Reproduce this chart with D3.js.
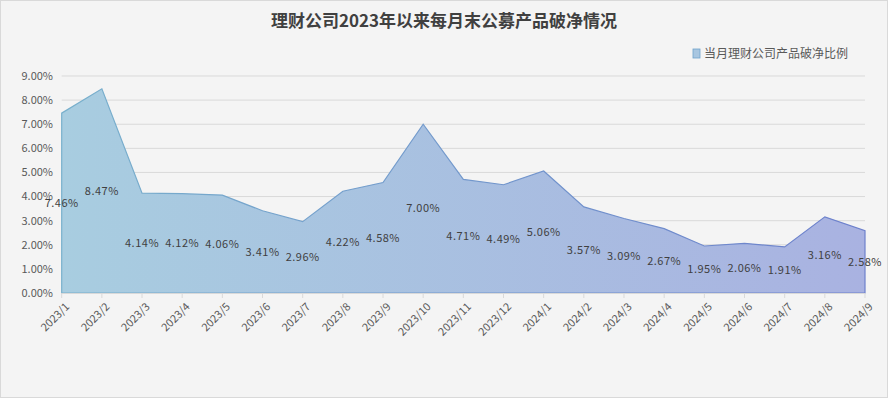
<!DOCTYPE html>
<html><head><meta charset="utf-8">
<script src="https://cdn.jsdelivr.net/npm/d3@7"></script>
<style>body{margin:0;background:#fff;}svg{display:block;}</style>
</head><body>
<svg id="c" width="889" height="399"></svg>
<script>
const categories = ["2023/1","2023/2","2023/3","2023/4","2023/5","2023/6","2023/7","2023/8","2023/9","2023/10","2023/11","2023/12","2024/1","2024/2","2024/3","2024/4","2024/5","2024/6","2024/7","2024/8","2024/9"];
const values = [7.46,8.47,4.14,4.12,4.06,3.41,2.96,4.22,4.58,7.00,4.71,4.49,5.06,3.57,3.09,2.67,1.95,2.06,1.91,3.16,2.58];
const yTicks = [0,1,2,3,4,5,6,7,8,9];
const title = "理财公司2023年以来每月末公募产品破净情况";
const seriesName = "当月理财公司产品破净比例";

const svg = d3.select("#c");
const W = 889, H = 399;
svg.append("rect").attr("x",0.5).attr("y",0.5).attr("width",W-2).attr("height",H-2)
  .attr("fill","#f4f4f4").attr("stroke","#d9d9d9");

const x0 = 61.7, x1 = 865, yTop = 76, yBot = 293;
const x = d3.scalePoint().domain(categories).range([x0,x1]);
const y = d3.scaleLinear().domain([0,9]).range([yBot,yTop]);

const font = "'Microsoft YaHei','Noto Sans CJK SC','Noto Sans',sans-serif";

// gridlines
svg.append("g").selectAll("line").data(yTicks.filter(d=>d>0)).join("line")
  .attr("x1",x0).attr("x2",x1).attr("y1",d=>y(d)).attr("y2",d=>y(d))
  .attr("stroke","#d9d9d9").attr("stroke-width",1);

// gradient
const defs = svg.append("defs");
const gf = defs.append("linearGradient").attr("id","gf").attr("gradientUnits","userSpaceOnUse")
  .attr("x1",x0).attr("x2",x1).attr("y1",0).attr("y2",0);
gf.append("stop").attr("offset","0%").attr("stop-color","#a8cde0");
gf.append("stop").attr("offset","100%").attr("stop-color","#a9b2e1");
const gs = defs.append("linearGradient").attr("id","gs").attr("gradientUnits","userSpaceOnUse")
  .attr("x1",x0).attr("x2",x1).attr("y1",0).attr("y2",0);
gs.append("stop").attr("offset","0%").attr("stop-color","#78b0cc");
gs.append("stop").attr("offset","100%").attr("stop-color","#6d80cc");

const data = categories.map((c,i)=>({c, v: values[i]}));
const area = d3.area().x(d=>x(d.c)).y0(y(0)).y1(d=>y(d.v));
svg.append("path").datum(data).attr("d",area).attr("fill","url(#gf)")
  .attr("stroke","url(#gs)").attr("stroke-width",1.2).attr("stroke-linejoin","miter");

// x axis
const xAxis = svg.append("g").attr("transform",`translate(0,${yBot})`);
xAxis.append("line").attr("x1",x0).attr("x2",x1).attr("y1",0.5).attr("y2",0.5).attr("stroke","#d9d9d9");
xAxis.selectAll("line.t").data(categories).join("line").attr("class","t")
  .attr("x1",d=>x(d)).attr("x2",d=>x(d)).attr("y1",0).attr("y2",5).attr("stroke","#d9d9d9");
xAxis.selectAll("text").data(categories).join("text")
  .attr("transform",d=>`translate(${x(d)+3},${9}) rotate(-45)`)
  .attr("text-anchor","end").attr("dy","0.7em")
  .attr("font-family",font).attr("font-size",11).attr("fill","#595959").text(d=>d);

// y axis labels
svg.append("g").selectAll("text").data(yTicks).join("text")
  .attr("x",53).attr("y",d=>y(d)).attr("dy","0.35em").attr("text-anchor","end")
  .attr("font-family",font).attr("font-size",11).attr("fill","#595959")
  .text(d=>d3.format(".2f")(d)+"%");

// data labels
svg.append("g").selectAll("text").data(data).join("text")
  .attr("x",d=>x(d.c)).attr("y",d=>y(d.v/2)).attr("dy","0.35em").attr("text-anchor","middle")
  .attr("font-family",font).attr("font-size",11).attr("fill","#404040").attr("letter-spacing",0.5)
  .text(d=>d3.format(".2f")(d.v)+"%");

// title
svg.append("text").attr("x",444).attr("y",27).attr("text-anchor","middle")
  .attr("font-family",font).attr("font-size",17).attr("font-weight","bold").attr("fill","#404040")
  .text(title);

// legend
svg.append("rect").attr("x",693).attr("y",49).attr("width",7).attr("height",9)
  .attr("fill","#a8c6e0").attr("stroke","#6fa3cc").attr("stroke-width",0.8);
svg.append("text").attr("x",704).attr("y",54).attr("dy","0.35em")
  .attr("font-family",font).attr("font-size",12).attr("fill","#595959").text(seriesName);
</script>
</body></html>
